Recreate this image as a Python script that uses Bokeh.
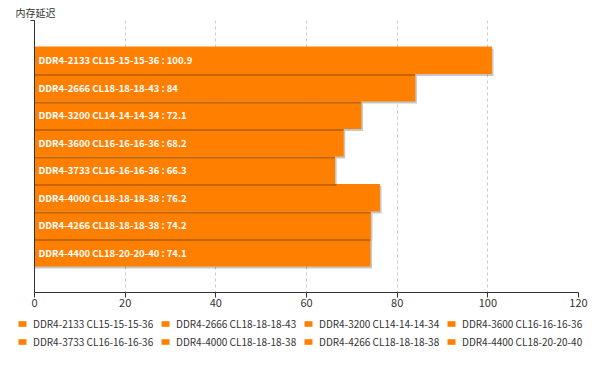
from bokeh.plotting import figure
from bokeh.layouts import column, row
from bokeh.models import Range1d, FixedTicker, Legend, LegendItem, ColumnDataSource
from bokeh.core.properties import value
from bokeh.embed import file_html
from bokeh.resources import INLINE

categories = [
    "DDR4-2133 CL15-15-15-36",
    "DDR4-2666 CL18-18-18-43",
    "DDR4-3200 CL14-14-14-34",
    "DDR4-3600 CL16-16-16-36",
    "DDR4-3733 CL16-16-16-36",
    "DDR4-4000 CL18-18-18-38",
    "DDR4-4266 CL18-18-18-38",
    "DDR4-4400 CL18-20-20-40",
]
latency = [100.9, 84, 72.1, 68.2, 66.3, 76.2, 74.2, 74.1]
x_ticks = [0, 20, 40, 60, 80, 100, 120]
axis_title = "内存延迟"

BAR = "#ff8000"
FONT = "Noto Sans CJK SC"
n = len(categories)
pad = 0.945
p = figure(frame_width=544, frame_height=272, output_backend="svg", toolbar_location=None,
           x_range=Range1d(0, 120), y_range=Range1d(n - 0.5 + pad, -0.5 - pad),
           min_border_left=34, min_border_right=22, min_border_top=20, min_border_bottom=24,
           title=axis_title)
p.outline_line_color = None
p.title.align = "left"
p.title.offset = -19
p.title.standoff = 2
p.title.text_font = FONT
p.title.text_font_size = "10px"
p.title.text_font_style = "normal"
p.title.text_color = "#333333"

# axes
p.xaxis.ticker = FixedTicker(ticks=x_ticks)
p.xaxis.minor_tick_line_color = None
p.xaxis.major_tick_in = 0
p.xaxis.major_tick_out = 5
p.xaxis.axis_line_color = "#333333"
p.xaxis.major_tick_line_color = "#333333"
p.xaxis.major_label_text_color = "#333333"
p.xaxis.major_label_text_font = FONT
p.xaxis.major_label_text_font_size = "11px"
p.xaxis.major_label_standoff = 1

p.yaxis.ticker = FixedTicker(ticks=[-0.5 - pad + 0.001])
p.yaxis.minor_tick_line_color = None
p.yaxis.major_tick_in = 0
p.yaxis.major_tick_out = 4
p.yaxis.axis_line_color = "#333333"
p.yaxis.major_tick_line_color = "#333333"
p.yaxis.major_label_text_color = None

p.ygrid.visible = False
p.xgrid.ticker = FixedTicker(ticks=x_ticks)
p.xgrid.grid_line_color = "#cccccc"
p.xgrid.grid_line_dash = "3 3"

# bars (drawn bottom to top so shadows fall on lower bars)
for i in reversed(range(n)):
    src = ColumnDataSource(dict(y=[i], right=[latency[i]]))
    p.hbar(y=i + 0.07, left=0, right=latency[i] + 0.35, height=1,
           fill_color="black", fill_alpha=0.22, line_color=None)
    p.hbar(y="y", left=0, right="right", height=1, source=src,
           fill_color=BAR, line_color=None)

labels = [f"{c} : {v:g}" for c, v in zip(categories, latency)]
p.text(x=[0] * n, y=list(range(n)), text=labels, x_offset=4,
       text_align="left", text_baseline="middle", text_color="white",
       text_font=value(FONT), text_font_size="9.5px", text_font_style="bold")

# legend panel
lg = figure(width=600, height=52, output_backend="svg", toolbar_location=None,
            x_range=Range1d(0, 1), y_range=Range1d(0, 1),
            x_axis_location=None, y_axis_location=None,
            min_border_left=0, min_border_right=0, min_border_top=0, min_border_bottom=0)
lg.outline_line_color = None
lg.grid.visible = False
items = []
for c, v in zip(categories, latency):
    # legend swatch renderers (kept outside the visible range of this strip)
    r = lg.hbar(y=[-10], left=[0], right=[v], height=1, fill_color=BAR, line_color=None)
    items.append(LegendItem(label=c, renderers=[r]))
legend = Legend(items=items, orientation="horizontal", ncols=4, location=(17, 19))
legend.glyph_width = 10
legend.glyph_height = 7
legend.label_height = 13
legend.label_width = 124
legend.label_standoff = 6
legend.spacing = 3
legend.padding = 0
legend.margin = 0
legend.border_line_color = None
legend.background_fill_alpha = 0
legend.label_text_font = FONT
legend.label_text_font_size = "10px"
legend.label_text_color = "#333333"
lg.add_layout(legend, "center")

layout = column(p, row(lg, spacing=0), spacing=0)
open("out.html", "w").write(file_html(layout, INLINE))
